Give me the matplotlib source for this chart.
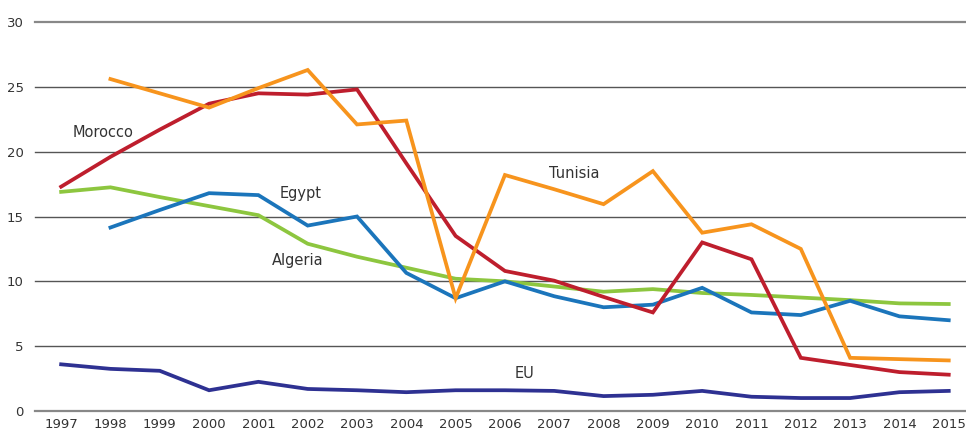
import matplotlib
matplotlib.use("Agg")
import matplotlib.pyplot as plt

years = list(range(1997, 2016))
morocco = [17.3, 19.6, 21.7, 23.7, 24.5, 24.4, 24.8, 19.1, 13.5, 10.8, 10.05, 8.8, 7.6, 13.0, 11.7, 4.1, 3.55, 3.0, 2.8]
tunisia = [None, 25.6, 24.5, 23.4, 24.9, 26.3, 22.1, 22.4, 8.7, 18.2, 17.1, 15.95, 18.5, 13.75, 14.4, 12.5, 4.1, 4.0, 3.9]
egypt = [None, 14.15, 15.5, 16.8, 16.65, 14.3, 15.0, 10.65, 8.7, 10.0, 8.85, 8.0, 8.2, 9.5, 7.6, 7.4, 8.5, 7.3, 7.0]
algeria = [16.9, 17.25, 16.5, 15.8, 15.1, 12.9, 11.9, 11.05, 10.2, 10.0, 9.6, 9.2, 9.4, 9.1, 8.95, 8.75, 8.55, 8.3, 8.25]
eu = [3.6, 3.25, 3.1, 1.6, 2.25, 1.7, 1.6, 1.45, 1.6, 1.6, 1.55, 1.15, 1.25, 1.55, 1.1, 1.0, 1.0, 1.45, 1.55]

series = [
    ("Algeria", algeria, "#8DC63F"),
    ("Egypt", egypt, "#1B75BB"),
    ("EU", eu, "#2E3192"),
    ("Morocco", morocco, "#BE1E2D"),
    ("Tunisia", tunisia, "#F7941D"),
]
label_pos = {
    "Morocco": (1997.85, 21.5),
    "Egypt": (2001.85, 16.8),
    "Algeria": (2001.8, 11.6),
    "Tunisia": (2007.4, 18.35),
    "EU": (2006.4, 2.9),
}
yticks = [0, 5, 10, 15, 20, 25, 30]

fig = plt.figure(figsize=(9.66, 4.32), dpi=100)
ax = fig.add_axes([35/966, 21/432, 1 - 35/966, (411-22)/432])

for yv in yticks:
    c = "#888888" if yv in (0, 30) else "#555555"
    lw = 1.6 if yv in (0, 30) else 1.0
    ax.axhline(yv, color=c, lw=lw, zorder=1, clip_on=False)

for name, vals, col in series:
    xs = [x for x, v in zip(years, vals) if v is not None]
    ys = [v for v in vals if v is not None]
    ax.plot(xs, ys, color=col, lw=2.7, solid_joinstyle="miter", zorder=3)

for name, (lx, ly) in label_pos.items():
    ax.text(lx, ly, name, ha="center", va="center", fontsize=10.5, color="#333333", zorder=4)

ax.set_xlim(1996.47, 2015.35)
ax.set_ylim(0, 30)
ax.set_yticks(yticks)
ax.set_xticks(years)
ax.set_xticklabels([str(y) for y in years])
ax.tick_params(axis="both", length=0, labelsize=9.5, labelcolor="#333333")
ax.tick_params(axis="y", pad=8)
ax.tick_params(axis="x", pad=5)
for s in ax.spines.values():
    s.set_visible(False)

fig.savefig("out.png", dpi=100)
